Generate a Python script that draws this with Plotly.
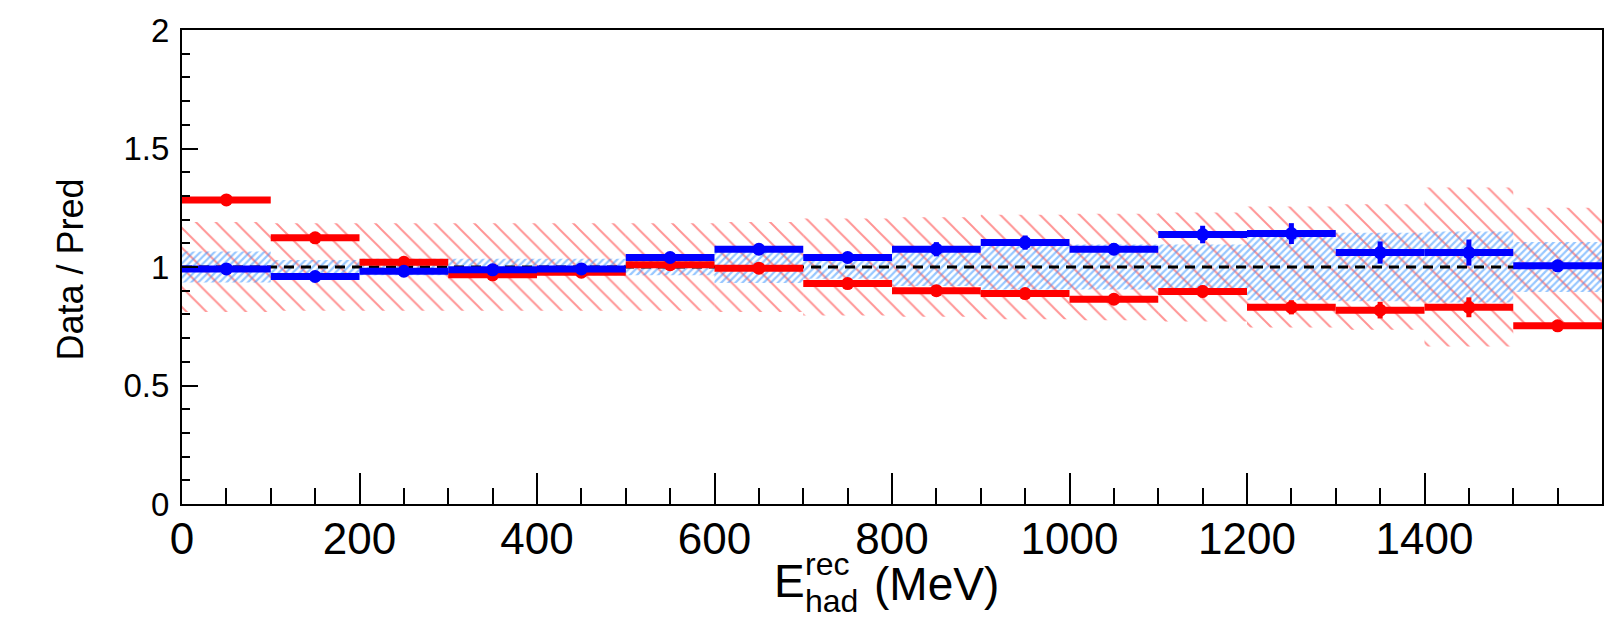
import plotly.graph_objects as go

# ---- data ----
bin_centers = [50, 150, 250, 350, 450, 550, 650, 750, 850, 950, 1050, 1150, 1250, 1350, 1450, 1550]
bin_half_width = [50] * 16
bin_width = [100] * 16

red_ratio = [1.283, 1.123, 1.020, 0.967, 0.978, 1.010, 0.995, 0.930, 0.900, 0.888, 0.864, 0.897, 0.830, 0.818, 0.830, 0.752]
red_err = [0.012, 0.012, 0.012, 0.012, 0.012, 0.015, 0.015, 0.015, 0.020, 0.020, 0.020, 0.025, 0.030, 0.035, 0.042, 0.015]
blue_ratio = [0.992, 0.960, 0.982, 0.988, 0.992, 1.040, 1.075, 1.040, 1.075, 1.103, 1.075, 1.137, 1.141, 1.061, 1.061, 1.005]
blue_err = [0.010, 0.010, 0.010, 0.010, 0.010, 0.015, 0.020, 0.020, 0.030, 0.030, 0.025, 0.037, 0.044, 0.047, 0.055, 0.020]

# systematic bands (half widths around 1)
red_band = [0.190, 0.185, 0.185, 0.185, 0.185, 0.185, 0.190, 0.205, 0.210, 0.220, 0.225, 0.230, 0.255, 0.265, 0.335, 0.250]
blue_band = [0.065, 0.030, 0.035, 0.035, 0.035, 0.035, 0.068, 0.050, 0.080, 0.095, 0.095, 0.095, 0.140, 0.145, 0.150, 0.105]

ref_x = [0, 1600]
ref_y = [1, 1]

x_ticks = [0, 200, 400, 600, 800, 1000, 1200, 1400]
x_tick_text = ["0", "200", "400", "600", "800", "1000", "1200", "1400"]
y_ticks = [0, 0.5, 1, 1.5, 2]
y_tick_text = ["0", "0.5", "1", "1.5", "2"]

FONT = "Liberation Sans, Arial, Helvetica, sans-serif"

fig = go.Figure()

fig.add_trace(go.Bar(
    x=bin_centers, y=[2 * h for h in red_band], base=[1 - h for h in red_band],
    width=bin_width,
    marker=dict(color="rgba(0,0,0,0)", line=dict(width=0),
                pattern=dict(shape="\\", fgcolor="#ff2a2a", bgcolor="rgba(0,0,0,0)",
                             size=14, solidity=0.14, fillmode="overlay")),
    showlegend=False, hoverinfo="skip"))

fig.add_trace(go.Bar(
    x=bin_centers, y=[2 * h for h in blue_band], base=[1 - h for h in blue_band],
    width=bin_width,
    marker=dict(color="rgba(0,0,0,0)", line=dict(width=0),
                pattern=dict(shape="/", fgcolor="#2f8fff", bgcolor="rgba(0,0,0,0)",
                             size=5, solidity=0.45, fillmode="overlay")),
    showlegend=False, hoverinfo="skip"))

fig.add_trace(go.Scatter(
    x=ref_x, y=ref_y, mode="lines",
    line=dict(color="black", width=3, dash="10px,7px"),
    showlegend=False, hoverinfo="skip"))

fig.add_trace(go.Scatter(
    x=bin_centers, y=red_ratio, mode="markers",
    marker=dict(color="#ff0000", size=13),
    error_x=dict(type="data", array=bin_half_width, color="#ff0000", thickness=7, width=0),
    error_y=dict(type="data", array=red_err, color="#ff0000", thickness=5, width=0),
    showlegend=False))

fig.add_trace(go.Scatter(
    x=bin_centers, y=blue_ratio, mode="markers",
    marker=dict(color="#0000ff", size=13),
    error_x=dict(type="data", array=bin_half_width, color="#0000ff", thickness=7, width=0),
    error_y=dict(type="data", array=blue_err, color="#0000ff", thickness=5, width=0),
    showlegend=False))

fig.update_layout(
    width=1619, height=619,
    margin=dict(l=182, r=17, t=23, b=115),
    paper_bgcolor="white", plot_bgcolor="white",
    barmode="overlay",
    font=dict(family=FONT, color="black"),
    xaxis=dict(range=[0, 1600], showgrid=False, zeroline=False,
               showline=True, linecolor="black", linewidth=2, mirror=True,
               tickmode="array", tickvals=x_ticks, ticktext=x_tick_text,
               ticks="inside", ticklen=31, tickwidth=1.5, tickcolor="black",
               tickfont=dict(size=44, family=FONT), ticklabelstandoff=-5,
               minor=dict(dtick=50, tick0=0, ticks="inside", ticklen=16, tickwidth=1.5, tickcolor="black")),
    yaxis=dict(range=[0, 2], showgrid=False, zeroline=False,
               showline=True, linecolor="black", linewidth=2, mirror=True,
               tickmode="array", tickvals=y_ticks, ticktext=y_tick_text,
               ticks="inside", ticklen=16, tickwidth=1.5, tickcolor="black",
               tickfont=dict(size=33, family=FONT), ticklabelstandoff=4,
               minor=dict(dtick=0.1, tick0=0, ticks="inside", ticklen=8, tickwidth=1.5, tickcolor="black")),
)

def px_to_paper_x(p):
    return (p - 182) / (1619 - 182 - 17)

def px_to_paper_y(p):
    return (619 - 115 - p) / (619 - 115 - 23)

annos = [
    dict(text="E", x=px_to_paper_x(772), y=px_to_paper_y(582), size=46),
    dict(text="rec", x=px_to_paper_x(803), y=px_to_paper_y(565), size=32),
    dict(text="had", x=px_to_paper_x(803), y=px_to_paper_y(602), size=32),
    dict(text="(MeV)", x=px_to_paper_x(872), y=px_to_paper_y(585), size=46),
]
for a in annos:
    fig.add_annotation(text=a["text"], x=a["x"], y=a["y"], xref="paper", yref="paper",
                       xanchor="left", yanchor="middle", showarrow=False,
                       font=dict(size=a["size"], family=FONT, color="black"))

fig.add_annotation(text="Data / Pred", x=px_to_paper_x(70), y=px_to_paper_y(266),
                   xref="paper", yref="paper", xanchor="center", yanchor="middle",
                   textangle=-90, showarrow=False, font=dict(size=36, family=FONT, color="black"))

fig.write_html("out.html")
